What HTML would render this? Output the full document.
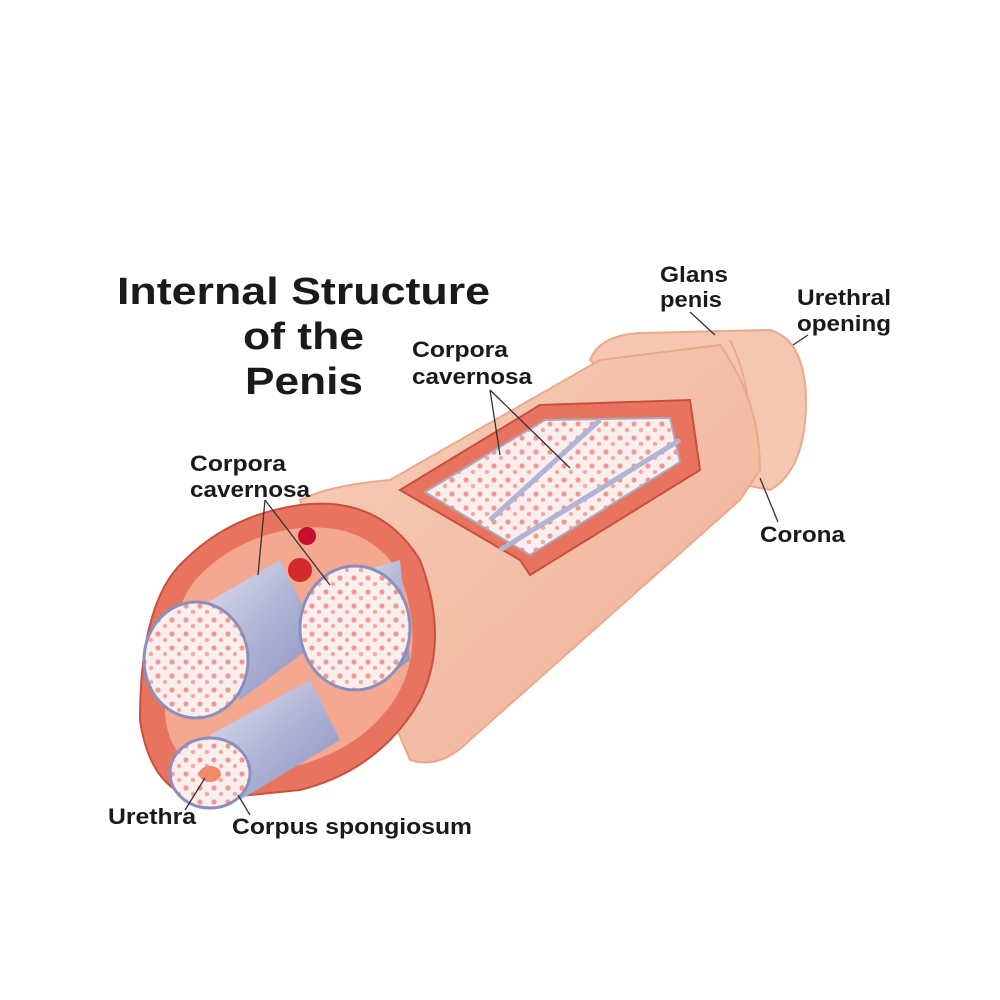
<!DOCTYPE html>
<html><head><meta charset="utf-8"><style>
html,body{margin:0;padding:0;background:#fff;}
svg{display:block;}
text{font-family:"Liberation Sans",sans-serif;fill:#1a1a1a;}
</style></head><body>
<svg width="1000" height="1000" viewBox="0 0 1000 1000">
<defs>
<pattern id="dots" width="14" height="14" patternUnits="userSpaceOnUse">
<rect width="14" height="14" fill="#fbeeee"/>
<circle cx="4" cy="4" r="2.6" fill="#ef9a8c"/>
<circle cx="11" cy="10" r="2.2" fill="#f2a99c"/>
</pattern>
<linearGradient id="tube" x1="0" y1="0" x2="1" y2="1">
<stop offset="0" stop-color="#e4e4f0"/><stop offset="0.5" stop-color="#b0b4d6"/><stop offset="1" stop-color="#8a8fbf"/>
</linearGradient>
<linearGradient id="skin" x1="0" y1="0" x2="1" y2="1">
<stop offset="0" stop-color="#f7cdb8"/><stop offset="1" stop-color="#f0b196"/>
</linearGradient>
</defs>

<text x="117" y="304" font-size="38" font-weight="bold" textLength="373" lengthAdjust="spacingAndGlyphs">Internal Structure</text>
<text x="243" y="349" font-size="38" font-weight="bold" textLength="121" lengthAdjust="spacingAndGlyphs">of the</text>
<text x="245" y="394" font-size="38" font-weight="bold" textLength="118" lengthAdjust="spacingAndGlyphs">Penis</text>

<path d="M590 360 Q600 335 640 333 L770 330 Q805 340 806 400 Q806 470 770 490 L720 480 Z" fill="#f6c7b0" stroke="#e9a98c" stroke-width="2"/>
<path d="M730 340 Q760 400 745 485" fill="none" stroke="#e9a98c" stroke-width="2"/>
<path d="M300 500 Q330 485 390 480 L600 360 L720 345 Q760 400 760 470 L740 500 L470 740 Q440 770 410 760 Z" fill="url(#skin)" stroke="#e9a98c" stroke-width="2"/>
<path d="M185 560 Q230 515 300 505 Q380 495 420 560 Q450 640 420 700 Q380 770 300 790 L200 800 Q150 790 140 720 Q140 600 185 560 Z" fill="#e8735f" stroke="#c9503d" stroke-width="2"/>
<path d="M200 575 Q240 535 300 528 Q370 522 400 575 Q425 640 400 690 Q370 745 300 765 L215 775 Q170 765 165 715 Q165 610 200 575 Z" fill="#f3a88f"/>
<circle cx="307" cy="536" r="9" fill="#c8102e"/>
<circle cx="300" cy="570" r="12" fill="#d42a2a"/>
<path d="M195 610 L280 560 L320 640 L240 700 Z" fill="url(#tube)"/>
<path d="M350 575 L400 560 L410 660 L370 690 Z" fill="url(#tube)"/>
<path d="M210 735 L310 680 L340 740 L240 800 Z" fill="url(#tube)"/>
<ellipse cx="196" cy="660" rx="52" ry="58" fill="url(#dots)" stroke="#8a8fbf" stroke-width="3"/>
<ellipse cx="355" cy="628" rx="55" ry="62" fill="url(#dots)" stroke="#8a8fbf" stroke-width="3"/>
<ellipse cx="210" cy="773" rx="40" ry="35" fill="url(#dots)" stroke="#8a8fbf" stroke-width="3"/>
<ellipse cx="210" cy="774" rx="11" ry="8" fill="#f08a6a"/>

<path d="M400 490 L540 405 L690 400 L700 470 L530 575 L520 560 Z" fill="#e8735f" stroke="#c9503d" stroke-width="2"/>
<path d="M425 492 L545 420 L670 418 L680 462 L530 555 Z" fill="url(#dots)" stroke="#aab" stroke-width="2"/>
<path d="M490 520 L600 420 M500 550 L680 440" stroke="#b0b4d6" stroke-width="5"/>

<g font-size="22" font-weight="bold">
<text x="660" y="282" textLength="68" lengthAdjust="spacingAndGlyphs">Glans</text>
<text x="660" y="307" textLength="62" lengthAdjust="spacingAndGlyphs">penis</text>
<text x="797" y="305" textLength="94" lengthAdjust="spacingAndGlyphs">Urethral</text>
<text x="797" y="331" textLength="94" lengthAdjust="spacingAndGlyphs">opening</text>
<text x="412" y="357" textLength="96" lengthAdjust="spacingAndGlyphs">Corpora</text>
<text x="412" y="384" textLength="120" lengthAdjust="spacingAndGlyphs">cavernosa</text>
<text x="190" y="471" textLength="96" lengthAdjust="spacingAndGlyphs">Corpora</text>
<text x="190" y="497" textLength="120" lengthAdjust="spacingAndGlyphs">cavernosa</text>
<text x="760" y="542" textLength="85" lengthAdjust="spacingAndGlyphs">Corona</text>
<text x="108" y="824" textLength="88" lengthAdjust="spacingAndGlyphs">Urethra</text>
<text x="232" y="834" textLength="240" lengthAdjust="spacingAndGlyphs">Corpus spongiosum</text>
</g>
<g stroke="#333" stroke-width="1.3" fill="none">
<path d="M690 312 L715 335"/>
<path d="M808 335 L793 345"/>
<path d="M490 390 L500 455 M490 390 L570 468"/>
<path d="M265 500 L258 575 M265 500 L330 585"/>
<path d="M778 522 L760 478"/>
<path d="M185 810 L205 778"/>
<path d="M250 815 L238 795"/>
</g>
</svg>
</body></html>
